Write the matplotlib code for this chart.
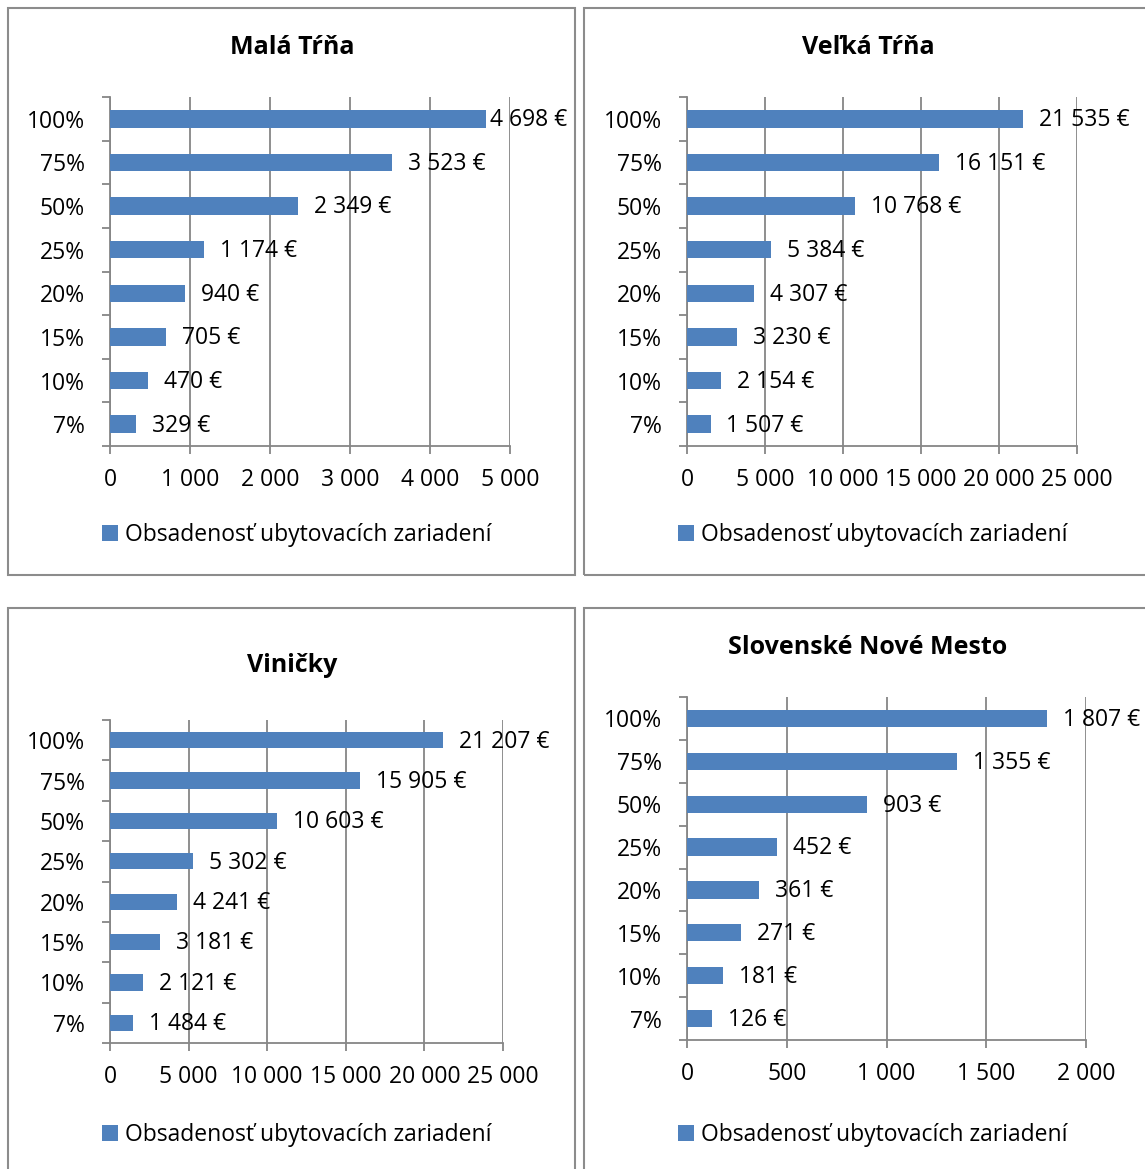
import matplotlib.pyplot as plt
from matplotlib.patches import Rectangle
from matplotlib.ticker import FixedLocator, FuncFormatter

plt.rcParams['font.family'] = ['Open Sans', 'DejaVu Sans']

W, H = 1145, 1169

categories = ["7%", "10%", "15%", "20%", "25%", "50%", "75%", "100%"]
titles = ["Malá Tŕňa", "Veľká Tŕňa", "Viničky", "Slovenské Nové Mesto"]
mala_trna = [329, 470, 705, 940, 1174, 2349, 3523, 4698]
velka_trna = [1507, 2154, 3230, 4307, 5384, 10768, 16151, 21535]
vinicky = [1484, 2121, 3181, 4241, 5302, 10603, 15905, 21207]
sl_nove_mesto = [126, 181, 271, 361, 452, 903, 1355, 1807]
x_max = [5000, 25000, 25000, 2000]
x_step = [1000, 5000, 5000, 500]
legend_label = "Obsadenosť ubytovacích zariadení"

series = [mala_trna, velka_trna, vinicky, sl_nove_mesto]

# pixel layout: chart box, plot area (l, t, r, b), title centre, legend centre
boxes = [(8, 8, 575, 575), (584, 8, 1152, 575), (8, 608, 575, 1176), (584, 608, 1152, 1176)]
plot_areas = [(110, 97, 510, 446), (687, 97, 1077, 446), (110, 720, 503, 1043), (687, 697, 1086, 1040)]
title_pos = [(292, 48), (868, 48), (292, 665), (868, 648)]
legend_pos = [(297, 535), (873, 535), (297, 1135), (873, 1135)]

bar_color = '#4F81BD'
grid_color = '#868686'
fs = 16.5

fig = plt.figure(figsize=(W / 100, H / 100), dpi=100)

for (x0, y0, x1, y1) in boxes:
    fig.patches.append(Rectangle((x0 / W, 1 - y1 / H), (x1 - x0) / W, (y1 - y0) / H,
                                 transform=fig.transFigure, fill=False,
                                 edgecolor='#8c8c8c', linewidth=1.5))

fmt = lambda v: f"{int(v):,}".replace(",", " ")

all_labels = []
for i, vals in enumerate(series):
    l, t, r, b = plot_areas[i]
    ax = fig.add_axes([l / W, 1 - b / H, (r - l) / W, (b - t) / H])
    ypos = range(len(categories))
    bars = ax.barh(ypos, vals, height=0.4, color=bar_color, label=legend_label, zorder=3)
    ax.set_xlim(0, x_max[i])
    ax.set_ylim(-0.5, len(categories) - 0.5)
    ax.xaxis.set_major_locator(FixedLocator(range(0, x_max[i] + 1, x_step[i])))
    ax.xaxis.set_major_formatter(FuncFormatter(lambda v, p: fmt(v)))
    ax.set_yticks(list(ypos))
    ax.set_yticklabels(categories)
    ax.set_yticks([k - 0.5 for k in range(len(categories) + 1)], minor=True)
    ax.tick_params(axis='y', which='major', length=0, pad=18, labelsize=fs)
    ax.tick_params(axis='y', which='minor', length=6, width=1.3, color=grid_color)
    ax.tick_params(axis='x', which='major', length=6, width=1.3, color=grid_color, pad=10, labelsize=fs)
    ax.grid(axis='x', color=grid_color, linewidth=1.3, zorder=0)
    for s in ['top', 'right']:
        ax.spines[s].set_visible(False)
    for s in ['left', 'bottom']:
        ax.spines[s].set_color(grid_color)
        ax.spines[s].set_linewidth(1.3)
    ax.set_axisbelow(True)
    for k, v in enumerate(vals):
        txt = ax.annotate(fmt(v) + " €", (v, k), xytext=(11.5, -1), textcoords='offset points',
                          ha='left', va='center', fontsize=fs, annotation_clip=False)
        all_labels.append((txt, boxes[i][2]))
    tx, ty = title_pos[i]
    fig.text(tx / W, 1 - ty / H, titles[i], ha='center', va='center', fontsize=18, fontweight='bold')
    lx, ly = legend_pos[i]
    ax.legend(handles=[bars], loc='center', bbox_to_anchor=(lx / W, 1 - ly / H),
              bbox_transform=fig.transFigure, frameon=False, fontsize=fs,
              handlelength=0.7, handleheight=0.7, handletextpad=0.3, borderpad=0)

# keep data labels inside the chart box, as Excel does
fig.canvas.draw()
renderer = fig.canvas.get_renderer()
for txt, box_right in all_labels:
    bb = txt.get_window_extent(renderer)
    limit = box_right - 8
    if bb.x1 > limit and box_right < W:
        x_off, y_off = txt.xyann
        txt.xyann = (x_off - (bb.x1 - limit) * 72 / fig.dpi, y_off)

fig.savefig('out.png', dpi=100, facecolor='white')
